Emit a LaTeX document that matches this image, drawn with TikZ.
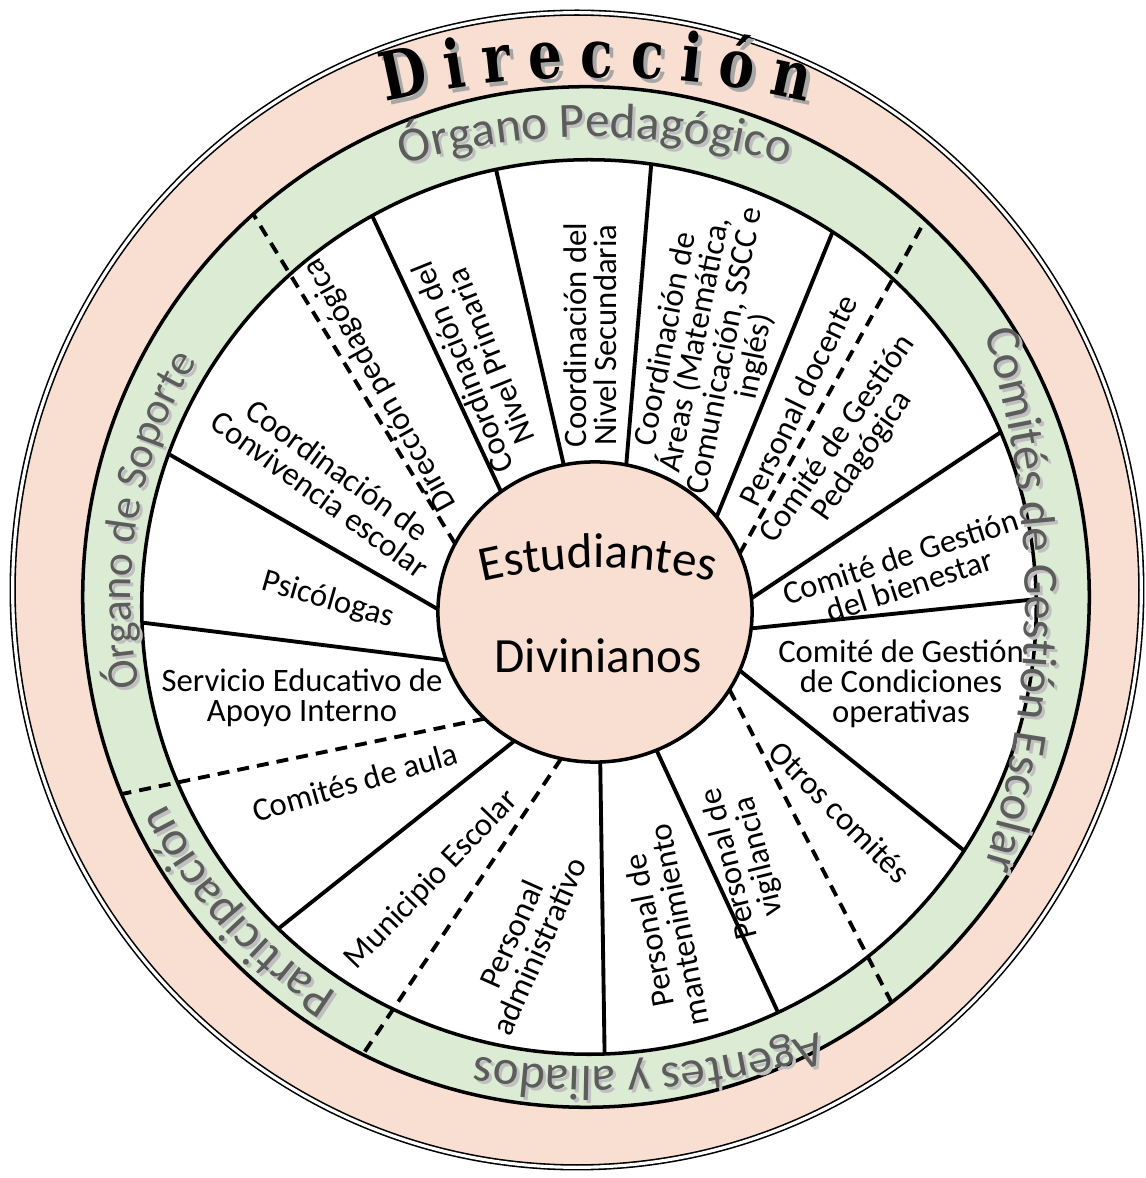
\documentclass[tikz,border=0pt]{standalone}
\usepackage{fontspec}
\setmainfont{Carlito}
\newfontfamily\headfont[FakeStretch=0.8]{DejaVu Serif}
\usetikzlibrary{positioning,shapes.geometric,decorations.text}
\definecolor{salmon}{HTML}{F8DFD2}
\definecolor{ringgreen}{HTML}{DCEBD3}
\definecolor{ringgray}{HTML}{5C5C5C}

\begin{document}
\begin{tikzpicture}[x=0.01cm, y=0.01cm,
  disc/.style={draw, line width=1pt, inner sep=0pt, outer sep=0pt},
  spoke/.style={line width=1.1pt},
  divider/.style={line width=1.1pt, dash pattern=on 3.4pt off 2.3pt},
  cell/.style={align=center, inner sep=0pt, font=\fontsize{9.3}{8.6}\selectfont},
  hubtext/.style={font=\fontsize{14}{14}\selectfont},
  ringlabel/.style 2 args={decorate, decoration={text along path, text align=center,
    text={|\color{ringgray}\fontsize{#1}{#1}\selectfont|#2}}},
  ringshadow/.style 2 args={decorate, decoration={text along path, text align=center,
    text={|\color{black!25}\fontsize{#1}{#1}\selectfont|#2}}},
  headlabel/.style 2 args={decorate, decoration={text along path, text align={fit to path},
    text={|\color{#1}\headfont\bfseries\fontsize{19}{19}\selectfont|#2}}},
]
\useasboundingbox (0,0) rectangle (1146,1178);

\node[disc, ellipse, double, line width=0.45pt, double distance=0.9pt, fill=salmon,
  minimum width=11.28cm, minimum height=11.54cm] (rim) at (577,588) {};
\node[disc, ellipse, fill=ringgreen, minimum width=10.06cm, minimum height=10.20cm] (band) at (586,581) {};
\node[disc, circle, fill=white, minimum size=8.94cm] (wheel) at (589,571) {};
\node[disc, ellipse, fill=salmon, minimum width=3.14cm, minimum height=3.00cm] (hub) at (595,566) {};

\draw[divider] (hub.154) -- (band.131);
\draw[spoke] (hub.128) -- (wheel.119);
\draw[spoke] (hub.102) -- (wheel.102);
\draw[spoke] (hub.78) -- (wheel.82);
\draw[spoke] (hub.38) -- (wheel.57);
\draw[divider] (hub.22) -- (band.48);
\draw[spoke] (hub.5) -- (wheel.23);
\draw[spoke] (hub.354) -- (wheel.1);
\draw[spoke] (hub.338) -- (wheel.327);
\draw[divider] (hub.330) -- (band.307);
\draw[spoke] (hub.294) -- (wheel.295);
\draw[spoke] (hub.272) -- (wheel.272);
\draw[divider] (hub.257) -- (band.244);
\draw[spoke] (hub.238) -- (wheel.226);
\draw[divider] (hub.224) -- (band.203);
\draw[spoke] (hub.198) -- (wheel.182);
\draw[spoke] (hub.179) -- (wheel.160);

\node[cell, rotate=119] (dirped) at (380,793) {Dirección pedagógica};
\node[cell, rotate=112] (primaria) at (476,816) {Coordinación del\\Nivel Primaria};
\node[cell, rotate=90] (secundaria) at (590,843) {Coordinación del\\Nivel Secundaria};
\node[cell, rotate=79] (areas) at (711,830) {Coordinación de\\Áreas (Matemática,\\Comunicación, SSCC e\\inglés)};
\node[cell, rotate=64] (docente) at (798,778) {Personal docente};
\node[cell, rotate=55] (cgpedag) at (850,730) {Comité de Gestión\\Pedagógica};
\node[cell, rotate=18] (bienestar) at (905,607) {Comité de Gestión\\del bienestar};
\node[cell] (condiciones) at (901,494) {Comité de Gestión\\de Condiciones\\operativas};
\node[cell, rotate=-45] (otros) at (840,366) {Otros comités};
\node[cell, rotate=104] (vigilancia) at (745,318) {Personal de\\vigilancia};
\node[cell, rotate=101] (mantenimiento) at (664,250) {Personal de\\mantenimiento};
\node[cell, rotate=66] (administrativo) at (525,238) {Personal\\administrativo};
\node[cell, rotate=46] (municipio) at (432,298) {Municipio Escolar};
\node[cell, rotate=16] (aula) at (355,396) {Comités de aula};
\node[cell] (apoyo) at (302,480) {Servicio Educativo de\\Apoyo Interno};
\node[cell, rotate=-16] (psicologas) at (328,578) {Psicólogas};
\node[cell, rotate=-36] (convivencia) at (329,696) {Coordinación de\\Convivencia escolar};

\path[decorate, decoration={text along path, text align=center,
  text={|\fontsize{14}{14}\selectfont|Estudiantes}}]
  ([shift={(105:500)}]598,110) arc[start angle=105, end angle=75, radius=500];
\node[hubtext, anchor=base] (divinianos) at (598,505) {Divinianos};

\path[headlabel={black!35}{Dirección}] ([shift={(103.4:911)}]601,186) arc[start angle=103.4, end angle=76.7, radius=911];
\path[headlabel={black}{Dirección}] ([shift={(103.4:911)}]597,190) arc[start angle=103.4, end angle=76.7, radius=911];

\path[ringshadow={14}{Órgano Pedagógico}] ([shift={(120:687)}]598,351) arc[start angle=120, end angle=60, radius=687];
\path[ringlabel={14}{Órgano Pedagógico}] ([shift={(120:687)}]595,354) arc[start angle=120, end angle=60, radius=687];
\path[ringshadow={12.5}{Órgano de Soporte}] ([shift={(200:455)}]589,578) arc[start angle=200, end angle=140, radius=455];
\path[ringlabel={12.5}{Órgano de Soporte}] ([shift={(200:455)}]586,581) arc[start angle=200, end angle=140, radius=455];
\path[ringshadow={14}{Comités de Gestión Escolar}] ([shift={(30:900)}]128,575) arc[start angle=30, end angle=-30, radius=900];
\path[ringlabel={14}{Comités de Gestión Escolar}] ([shift={(30:900)}]125,578) arc[start angle=30, end angle=-30, radius=900];
\path[ringshadow={14}{Agentes y aliados}] ([shift={(-56:700)}]603,808) arc[start angle=-56, end angle=-116, radius=700];
\path[ringlabel={14}{Agentes y aliados}] ([shift={(-56:700)}]600,811) arc[start angle=-56, end angle=-116, radius=700];
\path[ringshadow={14}{Participación}] ([shift={(-113:468)}]589,578) arc[start angle=-113, end angle=-163, radius=468];
\path[ringlabel={14}{Participación}] ([shift={(-113:468)}]586,581) arc[start angle=-113, end angle=-163, radius=468];
\end{tikzpicture}
\end{document}
